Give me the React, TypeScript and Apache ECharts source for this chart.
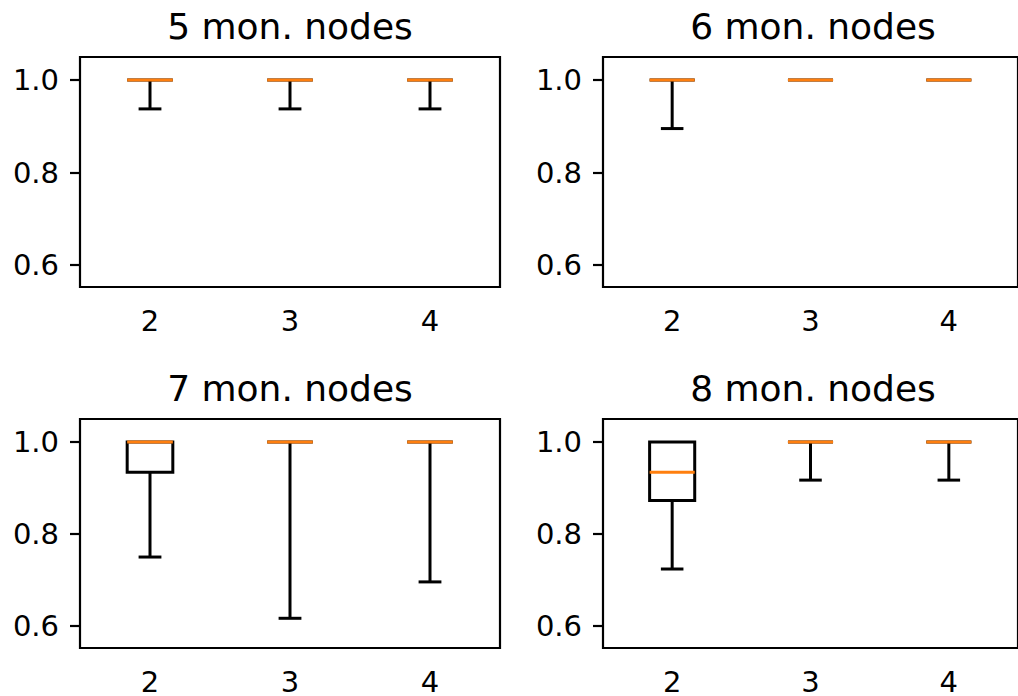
import React, { useEffect, useRef } from "react";
import * as echarts from "echarts";

const categories = ["2", "3", "4"];
const titles = ["5 mon. nodes", "6 mon. nodes", "7 mon. nodes", "8 mon. nodes"];
const yTicks = [0.6, 0.8, 1.0];
// [min, q1, median, q3, max] per category
const nodes5 = [
  [0.9375, 1, 1, 1, 1],
  [0.9375, 1, 1, 1, 1],
  [0.9375, 1, 1, 1, 1],
];
const nodes6 = [
  [0.895, 1, 1, 1, 1],
  [1, 1, 1, 1, 1],
  [1, 1, 1, 1, 1],
];
const nodes7 = [
  [0.75, 0.934, 1, 1, 1],
  [0.617, 1, 1, 1, 1],
  [0.696, 1, 1, 1, 1],
];
const nodes8 = [
  [0.724, 0.873, 0.934, 1, 1],
  [0.917, 1, 1, 1, 1],
  [0.917, 1, 1, 1, 1],
];
const panels = [nodes5, nodes6, nodes7, nodes8];

const FONT = "DejaVu Sans";
const grids = [
  { left: 80, top: 57, width: 420, height: 230 },
  { left: 603, top: 57, width: 420, height: 230 },
  { left: 80, top: 419, width: 420, height: 230 },
  { left: 603, top: 419, width: 420, height: 230 },
];

export default function App() {
  const ref = useRef<HTMLDivElement>(null);
  useEffect(() => {
    if (!ref.current) return;
    const chart = echarts.init(ref.current, undefined, { renderer: "svg" });

    const renderItem = (params: any, api: any) => {
      const idx = api.value(0);
      const mn = api.value(1);
      const q1 = api.value(2);
      const med = api.value(3);
      const q3 = api.value(4);
      const mx = api.value(5);
      const unit = api.size([1, 0])[0];
      const half = unit * 0.163;
      const capHalf = half / 2;
      const cx = api.coord([idx, med])[0];
      const yMin = api.coord([idx, mn])[1];
      const yQ1 = api.coord([idx, q1])[1];
      const yMed = api.coord([idx, med])[1];
      const yQ3 = api.coord([idx, q3])[1];
      const yMax = api.coord([idx, mx])[1];
      const black = { stroke: "#000", lineWidth: 3, fill: null };
      const children: any[] = [
        { type: "rect", shape: { x: cx - half, y: yQ3, width: 2 * half, height: yQ1 - yQ3 }, style: black },
      ];
      if (mn < q1) {
        children.push({ type: "line", shape: { x1: cx, y1: yQ1, x2: cx, y2: yMin }, style: black });
        children.push({ type: "line", shape: { x1: cx - capHalf, y1: yMin, x2: cx + capHalf, y2: yMin }, style: black });
      }
      if (mx > q3) {
        children.push({ type: "line", shape: { x1: cx, y1: yQ3, x2: cx, y2: yMax }, style: black });
        children.push({ type: "line", shape: { x1: cx - capHalf, y1: yMax, x2: cx + capHalf, y2: yMax }, style: black });
      }
      children.push({
        type: "line",
        shape: { x1: cx - half, y1: yMed, x2: cx + half, y2: yMed },
        style: { stroke: "#ff7f0e", lineWidth: 3 },
      });
      return { type: "group", children };
    };

    const option: any = {
      animation: false,
      backgroundColor: "#fff",
      textStyle: { fontFamily: FONT },
      grid: grids.map((g) => ({ ...g, show: true, borderColor: "#000", borderWidth: 2.2, backgroundColor: "transparent" })),
      xAxis: grids.map((_, i) => ({
        type: "category",
        gridIndex: i,
        data: categories,
        boundaryGap: true,
        axisLine: { show: false },
        axisTick: { alignWithLabel: true, length: 10, lineStyle: { color: "#000", width: 2.2 } },
        axisLabel: { color: "#000", fontSize: 29, fontFamily: FONT, margin: 19 },
        splitLine: { show: false },
      })),
      yAxis: grids.map((_, i) => ({
        type: "value",
        gridIndex: i,
        min: 0.5525,
        max: 1.0497,
        axisLine: { show: false },
        axisTick: { show: true, length: 10, customValues: yTicks, lineStyle: { color: "#000", width: 2.2 } },
        axisLabel: {
          color: "#000",
          fontSize: 29,
          fontFamily: FONT,
          margin: 21,
          customValues: yTicks,
          formatter: (v: number) => v.toFixed(1),
        },
        splitLine: { show: false },
      })),
      series: panels.map((p, i) => ({
        type: "custom",
        xAxisIndex: i,
        yAxisIndex: i,
        renderItem,
        encode: { x: 0, y: [1, 2, 3, 4, 5] },
        data: p.map((s, k) => [k, ...s]),
        clip: false,
      })),
      graphic: grids.map((g, i) => ({
        type: "text",
        x: g.left + 210,
        y: g.top - 31,
        style: {
          text: titles[i],
          font: `36px "${FONT}"`,
          fill: "#000",
          textAlign: "center",
          textVerticalAlign: "middle",
        },
      })),
    };
    chart.setOption(option);
    return () => chart.dispose();
  }, []);
  return (
    <div
      ref={ref}
      style={{ position: "absolute", left: 0, top: 0, width: 1018, height: 696, background: "#fff" }}
    />
  );
}
